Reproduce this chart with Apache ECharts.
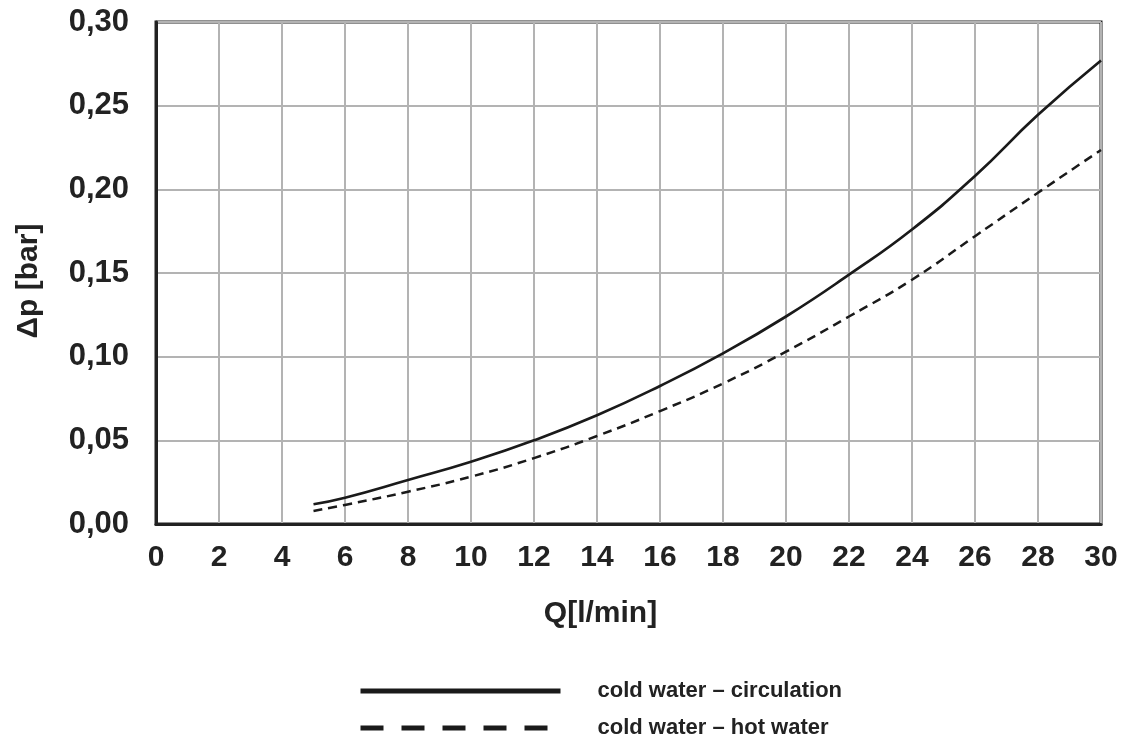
<!DOCTYPE html>
<html>
<head>
<meta charset="utf-8">
<script src="https://cdn.jsdelivr.net/npm/echarts@6/dist/echarts.min.js"></script>
<style>
  html, body { margin: 0; padding: 0; background: #fff; }
  #chart { width: 1124px; height: 738px; }
</style>
</head>
<body>
<div id="chart"></div>
<script>
// flow rate Q [l/min]
var flow = [5, 6, 8, 10, 12, 14, 16, 18, 20, 22, 24, 26, 28, 30];
// pressure drop [bar]
var circulation = [0.0118, 0.0157, 0.0263, 0.0372, 0.050, 0.065, 0.0825, 0.102, 0.124, 0.149, 0.176, 0.208, 0.2445, 0.277];
var hotWater = [0.0078, 0.0114, 0.0193, 0.0283, 0.0394, 0.0526, 0.0675, 0.084, 0.103, 0.124, 0.146, 0.172, 0.198, 0.2235];
var seriesNames = ['cold water \u2013 circulation', 'cold water \u2013 hot water'];
var legendDash = ['solid', [23, 18]];

function pairs(xs, ys) {
  return xs.map(function (x, i) { return [x, ys[i]]; });
}

var font = 'Liberation Sans, Arial, sans-serif';
var ink = '#222';

// one legend box per row so the rows sit exactly where the original puts them
function legendRow(i, top) {
  return {
    left: 358, top: top, padding: 0,
    itemWidth: 200, itemHeight: 16,
    textStyle: { fontFamily: font, fontWeight: 'bold', fontSize: 22, color: ink, padding: [0, 0, 0, 32] },
    data: [{ name: seriesNames[i], itemStyle: { opacity: 0 }, lineStyle: { width: 5, type: legendDash[i] } }]
  };
}

var chart = echarts.init(document.getElementById('chart'));
chart.setOption({
  animation: false,
  backgroundColor: '#fff',
  grid: { left: 156, right: 23, top: 22, bottom: 214, show: true, borderColor: ink, borderWidth: 3 },
  xAxis: {
    type: 'value', min: 0, max: 30, interval: 2,
    name: 'Q[l/min]', nameLocation: 'middle', nameGap: 75,
    nameTextStyle: { fontFamily: font, fontWeight: 'bold', fontSize: 30, color: ink, padding: [0, 56, 0, 0] },
    axisLine: { lineStyle: { color: ink, width: 3 } },
    axisTick: { show: false },
    axisLabel: { margin: 19, fontFamily: font, fontWeight: 'bold', fontSize: 30, color: ink },
    splitLine: { lineStyle: { color: '#b3b3b3', width: 2 } }
  },
  yAxis: {
    type: 'value', min: 0, max: 0.3, interval: 0.05,
    name: '\u0394p [bar]', nameLocation: 'middle', nameGap: 112, nameRotate: 90,
    nameTextStyle: { fontFamily: font, fontWeight: 'bold', fontSize: 30, color: ink, padding: [0, 16, 0, 0] },
    axisLine: { show: true, lineStyle: { color: ink, width: 3 } },
    axisTick: { show: false },
    axisLabel: {
      margin: 27, fontFamily: font, fontWeight: 'bold', fontSize: 31, color: ink,
      formatter: function (v) { return v.toFixed(2).replace('.', ','); }
    },
    splitLine: { lineStyle: { color: '#b3b3b3', width: 2 } }
  },
  legend: [legendRow(0, 680), legendRow(1, 717)],
  series: [
    {
      name: seriesNames[0], type: 'line', smooth: true, symbol: 'none',
      lineStyle: { color: '#1a1a1a', width: 2.7 }, itemStyle: { color: '#1a1a1a' },
      data: pairs(flow, circulation)
    },
    {
      name: seriesNames[1], type: 'line', smooth: true, symbol: 'none',
      lineStyle: { color: '#1a1a1a', width: 2.5, type: [9, 6] }, itemStyle: { color: '#1a1a1a' },
      data: pairs(flow, hotWater)
    }
  ]
});
</script>
</body>
</html>
